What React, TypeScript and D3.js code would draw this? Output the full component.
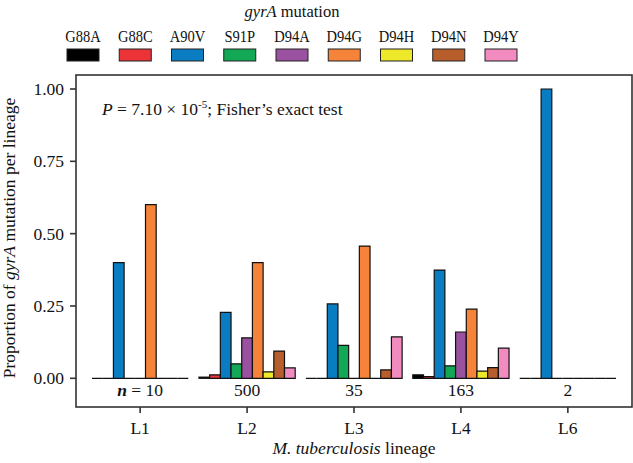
import React from 'react';
import * as d3 from 'd3';

const lineages = ['L1', 'L2', 'L3', 'L4', 'L6'];
const sampleSizes = ['10', '500', '35', '163', '2'];
const mutations = ['G88A', 'G88C', 'A90V', 'S91P', 'D94A', 'D94G', 'D94H', 'D94N', 'D94Y'];
const mutationColors = ['#000000', '#ec3338', '#0a7cc1', '#12a855', '#9a52a0', '#f5833a', '#eee82a', '#b85d2c', '#f28bbf'];

// proportion of each mutation within a lineage (same order as mutations)
const propL1 = [0, 0, 0.4, 0, 0, 0.6, 0, 0, 0];
const propL2 = [0.004, 0.012, 0.228, 0.05, 0.14, 0.4, 0.022, 0.094, 0.036];
const propL3 = [0, 0, 0.257, 0.114, 0, 0.457, 0, 0.029, 0.143];
const propL4 = [0.012, 0.006, 0.374, 0.043, 0.16, 0.239, 0.025, 0.037, 0.104];
const propL6 = [0, 0, 1, 0, 0, 0, 0, 0, 0];
const proportions = [propL1, propL2, propL3, propL4, propL6];

const yTicks = [0, 0.25, 0.5, 0.75, 1];

const font = '"Liberation Serif", "Times New Roman", serif';

export default function App() {
  const width = 633;
  const height = 463;
  const panel = { left: 76, right: 632, top: 75, bottom: 407 };

  const x = d3
    .scalePoint<string>()
    .domain(lineages)
    .range([panel.left, panel.right])
    .padding(0.6);
  const step = x.step();
  const inner = d3
    .scaleBand<string>()
    .domain(mutations)
    .range([-0.45 * step, 0.45 * step]);
  const y = d3.scaleLinear().domain([0, 1]).range([378.3, 89]);
  const color = d3.scaleOrdinal<string, string>().domain(mutations).range(mutationColors);

  const legendLeft = 67;
  const legendStep = 52.25;

  return (
    <svg
      width={width}
      height={height}
      style={{ position: 'absolute', left: 0, top: 0, background: '#fff' }}
      fontFamily={font}
    >
      {/* legend */}
      <text x={292} y={17} fontSize={16.5} textAnchor="middle" fill="#111">
        <tspan fontStyle="italic">gyrA</tspan> mutation
      </text>
      {mutations.map((m, i) => {
        const kx = legendLeft + i * legendStep;
        return (
          <g key={m}>
            <text
              transform={`translate(${kx + 16}, 42) scale(0.83, 1)`}
              fontSize={17.5}
              textAnchor="middle"
              fill="#111"
            >
              {m}
            </text>
            <rect x={kx} y={49} width={32} height={12} fill={color(m)} stroke="#222" strokeWidth={1} />
          </g>
        );
      })}

      {/* panel */}
      <rect
        x={panel.left}
        y={panel.top}
        width={panel.right - panel.left}
        height={panel.bottom - panel.top}
        fill="#fff"
        stroke="#333"
        strokeWidth={1.6}
      />

      {/* y axis */}
      {yTicks.map(t => (
        <g key={t}>
          <line x1={panel.left - 6} x2={panel.left} y1={y(t)} y2={y(t)} stroke="#333" strokeWidth={1.6} />
          <text x={panel.left - 12} y={y(t)} dy="0.35em" fontSize={17.5} textAnchor="end" fill="#111">
            {d3.format('.2f')(t)}
          </text>
        </g>
      ))}
      <text
        transform={`translate(15, ${(panel.top + panel.bottom) / 2 - 3}) rotate(-90)`}
        fontSize={17.5}
        textAnchor="middle"
        fill="#111"
      >
        Proportion of <tspan fontStyle="italic">gyrA</tspan> mutation per lineage
      </text>

      {/* x axis */}
      {lineages.map(l => (
        <g key={l}>
          <line x1={x(l)} x2={x(l)} y1={panel.bottom} y2={panel.bottom + 6} stroke="#333" strokeWidth={1.6} />
          <text x={x(l)} y={434} fontSize={17.5} textAnchor="middle" fill="#111">
            {l}
          </text>
        </g>
      ))}
      <text x={(panel.left + panel.right) / 2} y={454} fontSize={17.5} textAnchor="middle" fill="#111">
        <tspan fontStyle="italic">M. tuberculosis</tspan> lineage
      </text>

      {/* bars */}
      {lineages.map((l, li) =>
        mutations.map((m, mi) => {
          const x0 = (x(l) as number) + (inner(m) as number);
          const x1 = x0 + inner.bandwidth();
          const y0 = y(0);
          const y1 = y(proportions[li][mi]);
          return (
            <path
              key={l + m}
              d={`M${x0},${y0}V${y1}H${x1}V${y0}Z`}
              fill={color(m)}
              stroke="#111"
              strokeWidth={1.2}
            />
          );
        })
      )}

      {/* sample sizes */}
      {lineages.map((l, li) => (
        <text key={l} x={x(l)} y={396} fontSize={17.5} textAnchor="middle" fill="#111">
          {li === 0 ? (
            <>
              <tspan fontStyle="italic" fontWeight="bold">n</tspan> = {sampleSizes[li]}
            </>
          ) : (
            sampleSizes[li]
          )}
        </text>
      ))}

      {/* test annotation */}
      <text x={102} y={115} fontSize={17.5} fill="#111">
        <tspan fontStyle="italic">P</tspan> = 7.10 × 10
        <tspan dy={-7} fontSize={11}>-5</tspan>
        <tspan dy={7}>; Fisher’s exact test</tspan>
      </text>
    </svg>
  );
}
